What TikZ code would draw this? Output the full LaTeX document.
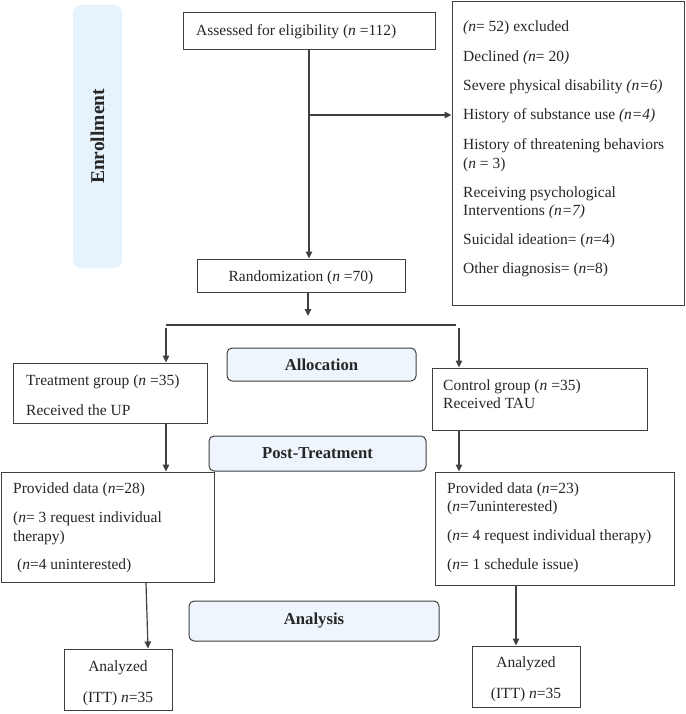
\documentclass[tikz,border=0pt]{standalone}
\usepackage{fontspec}
\setmainfont{LiberationSerif}[Extension=.ttf, UprightFont=*-Regular, BoldFont=*-Bold, ItalicFont=*-Italic, BoldItalicFont=*-BoldItalic]
\usetikzlibrary{arrows.meta}
\definecolor{headfill}{HTML}{EEF5FC}
\definecolor{enrfill}{HTML}{E6F3FD}
\definecolor{linec}{HTML}{404040}
\definecolor{textc}{HTML}{262626}
\begin{document}
\begin{tikzpicture}[x=1pt,y=-1pt,
  box/.style={draw=linec, line width=1pt, rectangle, inner sep=0pt},
  head/.style={draw=linec, line width=1pt, rounded corners=5pt, fill=headfill, inner sep=0pt, text=textc, font=\fontsize{16.7}{20}\selectfont\bfseries},
  enr/.style={fill=enrfill, rounded corners=8pt, inner sep=0pt, text=textc, font=\fontsize{19.5}{22}\selectfont\bfseries},
  txt/.style={inner sep=0pt, anchor=base west, text=textc, font=\fontsize{15.5}{18}\selectfont},
  ctxt/.style={txt, anchor=base},
  arr/.style={draw=linec, line width=1.2pt, -{Triangle[length=7pt,width=6.5pt]}},
  ln/.style={draw=linec, line width=1.2pt}
]
\path[use as bounding box, fill=white] (0,0) rectangle (685,714);

% Enrollment band
\node[enr, rotate=90, minimum width=263pt, minimum height=49pt] (enroll) at (97.5,136.5) {Enrollment};

% Assessed
\node[box, minimum width=252pt, minimum height=37pt] (assess) at (309,31.5) {};
\node[txt] (assesst) at (196,36) {Assessed for eligibility (\textit{n} =112)};

% Excluded
\node[box, minimum width=232pt, minimum height=303pt] (excl) at (568,153.5) {};
\node[txt] (ex1) at (463,32) {\textit{(n}= 52) excluded};
\node[txt] (ex2) at (463,62) {Declined \textit{(n}= 20\textit{)}};
\node[txt] (ex3) at (463,91) {Severe physical disability \textit{(n=6)}};
\node[txt] (ex4) at (463,120) {History of substance use \textit{(n=4)}};
\node[txt] (ex5) at (463,150) {History of threatening behaviors};
\node[txt] (ex6) at (463,168) {(\textit{n} = 3)};
\node[txt] (ex7) at (463,197) {Receiving psychological};
\node[txt] (ex8) at (463,215) {Interventions \textit{(n=7)}};
\node[txt] (ex9) at (463,244) {Suicidal ideation= (\textit{n}=4)};
\node[txt] (ex10) at (463,273) {Other diagnosis= (\textit{n}=8)};

% Randomization
\node[box, minimum width=208pt, minimum height=33pt] (rand) at (301,275.5) {};
\node[ctxt] (randt) at (301,281) {Randomization (\textit{n} =70)};

% Allocation
\node[head, minimum width=189pt, minimum height=33pt] (alloc) at (321.5,364.5) {Allocation};

% Treatment / Control
\node[box, minimum width=194pt, minimum height=60pt] (treat) at (110,393) {};
\node[txt] (tr1) at (26,385) {Treatment group (\textit{n} =35)};
\node[txt] (tr2) at (26,415) {Received the UP};

\node[box, minimum width=215pt, minimum height=62pt] (ctrl) at (539.5,399) {};
\node[txt] (ct1) at (443,390) {Control group (\textit{n} =35)};
\node[txt] (ct2) at (443,408) {Received TAU};

% Provided data
\node[box, minimum width=213pt, minimum height=110pt] (provL) at (107.5,527) {};
\node[txt] (pl1) at (13,493) {Provided data (\textit{n}=28)};
\node[txt] (pl2) at (13,522) {(\textit{n}= 3 request individual};
\node[txt] (pl3) at (13,541) {therapy)};
\node[txt] (pl4) at (17,569) {(\textit{n}=4 uninterested)};

\node[box, minimum width=239pt, minimum height=113pt] (provR) at (554.5,528.5) {};
\node[txt] (pr1) at (447,493) {Provided data (\textit{n}=23)};
\node[txt] (pr2) at (447,511) {(\textit{n}=7uninterested)};
\node[txt] (pr3) at (447,540) {(\textit{n}= 4 request individual therapy)};
\node[txt] (pr4) at (447,569) {(\textit{n}= 1 schedule issue)};

% Post-Treatment
\node[head, minimum width=217pt, minimum height=35pt] (post) at (317.5,453.5) {Post-Treatment};

% Analysis
\node[head, minimum width=250pt, minimum height=40pt] (anal) at (314,621) {Analysis};

% Analyzed
\node[box, minimum width=108pt, minimum height=61pt] (anL) at (118,679.5) {};
\node[ctxt] (al1) at (118,671) {Analyzed};
\node[ctxt] (al2) at (118,702) {(ITT) \textit{n}=35};

\node[box, minimum width=108pt, minimum height=61pt] (anR) at (526,676.5) {};
\node[ctxt] (ar1) at (526,667) {Analyzed};
\node[ctxt] (ar2) at (526,698) {(ITT) \textit{n}=35};

% Connectors
\draw[arr] (assess.south) -- (assess.south |- rand.north);
\coordinate (j1) at (309,115);
\draw[arr] (j1) -- (j1 -| excl.west);
\coordinate (r1) at (308,316);
\draw[arr] (r1 |- rand.south) -- (r1);
\coordinate (sL) at (166,325);
\coordinate (sR) at (456,325);
\draw[ln] (sL) -- (sR);
\coordinate (aL) at (166,328);
\coordinate (aR) at (459,328);
\draw[arr] (aL) -- (aL |- treat.north);
\draw[arr] (aR) -- (aR |- ctrl.north);
\draw[arr] (aL |- treat.south) -- (aL |- provL.north);
\draw[arr] (aR |- ctrl.south) -- (aR |- provR.north);
\draw[arr] ([xshift=38.5pt]provL.south) -- ([xshift=30pt]anL.north);
\draw[arr] ([xshift=-38.5pt]provR.south) -- ([xshift=-10pt]anR.north);
\end{tikzpicture}
\end{document}
